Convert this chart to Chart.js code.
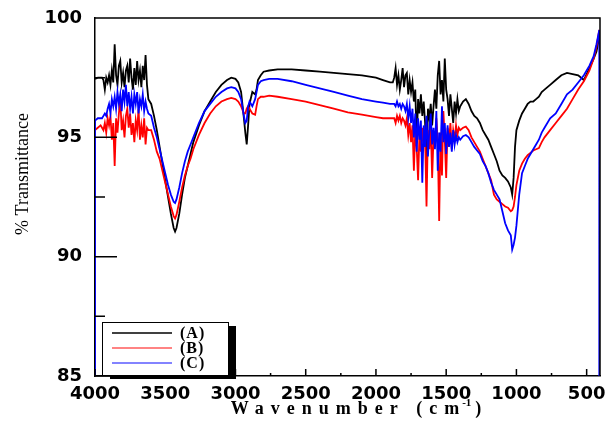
<!DOCTYPE html>
<html lang="en">
<head>
<meta charset="UTF-8">
<title>FTIR</title>
<script src="https://cdn.jsdelivr.net/npm/chart.js@4.4.1/dist/chart.umd.min.js"></script>
<style>
  body { margin: 0; background: #fff; }
</style>
</head>
<body>
<canvas id="myChart" width="610" height="427"></canvas>
<script>
// wavenumbers (cm-1), shared by the three spectra
const wavenumbers = [
  4000,
  4000, 3980, 3960,
  3950, 3940, 3930, 3920, 3910, 3900, 3890, 3880, 3870, 3860,
  3850, 3840, 3830, 3820, 3810, 3800, 3790, 3780, 3770, 3760,
  3750, 3740, 3730, 3720, 3710, 3700, 3690, 3680, 3670, 3660,
  3650, 3640, 3630, 3620,
  3600, 3580, 3560, 3540, 3520, 3500, 3480, 3460, 3440, 3430,
  3420, 3400, 3380, 3360, 3340, 3320, 3300, 3260, 3220, 3180,
  3140, 3100, 3060, 3030, 3000, 2980, 2960, 2940, 2930, 2920,
  2910, 2900, 2880, 2860, 2850, 2840, 2820, 2800, 2760, 2700,
  2600, 2500, 2400, 2300, 2200, 2100, 2000, 1950, 1900,
  1880, 1870, 1860, 1850, 1840, 1830, 1820, 1810, 1800, 1790,
  1780, 1770, 1760, 1750, 1740, 1730, 1720, 1710, 1700, 1690,
  1680, 1670, 1660, 1650, 1640, 1630, 1620, 1610, 1600, 1590,
  1580, 1570, 1560, 1550, 1540, 1530, 1520, 1510, 1500, 1490,
  1480, 1470, 1460, 1450, 1440, 1430, 1420, 1410, 1400,
  1380, 1360, 1340, 1320, 1300, 1280, 1260, 1240, 1220, 1200,
  1180, 1160, 1140, 1120, 1100, 1080, 1060, 1040, 1030, 1020,
  1010, 1000, 980, 960, 940, 920, 900, 880, 860, 840,
  820, 800, 760, 720, 680, 640, 600, 560, 520, 480,
  450, 430, 410,
  410
];

// (A)
const serieA = [
  null,
  97.45, 97.5, 97.5,
  97.5, 97.4, 97.0, 97.5, 97.3, 97.6, 97.2, 97.8, 97.3, 98.9,
  97.6, 97.2, 98.0, 98.2, 97.3, 97.7, 97.1, 97.8, 98.0, 97.3,
  98.3, 97.5, 97.0, 97.9, 97.2, 98.2, 97.4, 97.8, 97.1, 98.0,
  97.4, 98.45, 97.2, 96.6,
  96.4, 95.9, 95.3, 94.6, 93.9, 93.2, 92.5, 91.8, 91.2, 91.05,
  91.2, 91.8, 92.6, 93.3, 93.8, 94.3, 94.8, 95.5, 96.1, 96.5,
  96.9, 97.2, 97.4, 97.5, 97.45, 97.3, 96.9, 95.8, 95.2, 94.7,
  95.5, 96.4, 96.9, 96.8, 97.0, 97.4, 97.6, 97.75, 97.8, 97.85,
  97.85, 97.8, 97.75, 97.7, 97.65, 97.6, 97.5, 97.4, 97.3,
  97.3, 97.5, 97.9, 97.2, 97.6, 97.0, 97.4, 97.9, 97.1, 97.6,
  97.7, 96.8, 97.4, 96.9, 97.3, 96.5, 97.0, 94.8, 96.6, 96.0,
  96.8, 95.9, 96.5, 95.6, 93.3, 96.2, 95.8, 96.4, 95.5, 96.3,
  97.0, 96.2, 97.6, 98.2, 96.8, 97.4, 96.5, 98.3, 97.0, 96.6,
  95.9, 96.8, 96.2, 95.6, 96.5, 96.0, 96.6, 96.1, 96.3,
  96.5, 96.6, 96.4, 96.1, 95.9, 95.8, 95.6, 95.3, 95.1, 94.9,
  94.6, 94.3, 94.0, 93.6, 93.4, 93.3, 93.15, 92.9, 92.6, 93.3,
  94.6, 95.3, 95.7, 96.0, 96.2, 96.4, 96.5, 96.5, 96.6, 96.7,
  96.9, 97.0, 97.2, 97.4, 97.6, 97.7, 97.65, 97.6, 97.4, 97.9,
  98.3, 98.6, 99.2,
  null
];

// (B)
const serieB = [
  null,
  95.3, 95.4, 95.5,
  95.4, 95.3, 95.6, 95.2, 95.8, 95.5, 95.9, 94.9, 95.6, 93.8,
  95.8, 95.2, 96.0, 96.6, 95.3, 95.7, 95.0, 95.9, 96.2, 95.4,
  96.0, 95.1, 95.6, 94.8, 95.7, 95.3, 96.2, 94.9, 95.5, 95.0,
  95.8, 94.7, 95.4, 95.3,
  95.3, 94.9, 94.4, 94.1, 93.6, 93.1, 92.6, 92.1, 91.7, 91.6,
  91.75, 92.3, 92.9, 93.4, 93.8, 94.1, 94.5, 95.1, 95.6, 96.0,
  96.3, 96.5, 96.6, 96.65, 96.6, 96.5, 96.3, 96.0, 96.0, 96.2,
  96.3, 96.2, 96.0, 95.95, 96.3, 96.6, 96.7, 96.7, 96.75, 96.7,
  96.6, 96.5, 96.35, 96.2, 96.05, 95.95, 95.85, 95.8, 95.8,
  95.8, 95.8, 95.6, 95.9, 95.7, 95.9, 95.6, 95.8, 95.7, 95.5,
  95.8, 95.1, 95.6, 94.8, 95.5, 93.6, 95.3, 94.6, 93.2, 95.2,
  94.4, 95.4, 94.7, 95.0, 92.1, 95.3, 94.5, 95.6, 93.3, 95.0,
  94.6, 95.8, 94.8, 91.5, 95.2, 93.4, 96.1, 94.9, 93.3, 95.4,
  94.8, 95.6, 94.5, 95.3, 94.9, 95.5, 95.1, 95.4, 95.3,
  95.4, 95.45, 95.3, 95.0, 94.8, 94.6, 94.4, 94.1, 93.8, 93.5,
  93.2, 92.6, 92.4, 92.3, 92.2, 92.1, 92.05, 91.9, 91.95, 92.1,
  92.5, 93.0, 93.6, 93.9, 94.1, 94.25, 94.35, 94.45, 94.5, 94.55,
  94.8, 95.0, 95.3, 95.6, 95.9, 96.2, 96.6, 97.0, 97.35, 97.8,
  98.3, 98.8, 99.5,
  null
];

// (C)
const serieC = [
  85,
  95.7, 95.8, 95.8,
  95.8, 95.9, 96.0, 95.9, 96.2, 96.4, 96.0, 96.6, 96.3, 96.7,
  96.2, 96.9, 96.4, 96.8, 96.1, 97.0, 96.5, 97.2, 96.3, 96.9,
  96.2, 96.7, 96.0, 96.8, 96.4, 96.9, 96.0, 96.6, 96.3, 96.8,
  96.1, 96.5, 96.2, 96.0,
  95.9, 95.4, 95.0, 94.5, 94.0, 93.5, 93.0, 92.6, 92.3, 92.25,
  92.4, 92.9, 93.5, 94.0, 94.4, 94.7, 95.0, 95.6, 96.1, 96.4,
  96.7, 96.9, 97.05, 97.1, 97.05, 96.9, 96.6, 95.9, 95.6, 95.7,
  96.3, 96.5, 96.3, 96.6, 96.9, 97.2, 97.35, 97.4, 97.45, 97.45,
  97.35, 97.2, 97.05, 96.9, 96.75, 96.6, 96.5, 96.45, 96.4,
  96.4, 96.4, 96.3, 96.5, 96.3, 96.4, 96.2, 96.4, 96.3, 96.1,
  96.4, 95.8, 96.3, 95.6, 96.2, 95.0, 96.0, 94.4, 95.8, 94.9,
  95.7, 93.1, 95.5, 94.6, 95.9, 94.2, 95.3, 96.0, 94.7, 95.4,
  94.5, 96.1, 93.6, 95.2, 94.4, 96.3, 94.8, 95.6, 94.3, 95.5,
  94.6, 95.2, 94.4, 95.3, 94.7, 95.1, 94.8, 95.0, 94.9,
  95.05, 95.1, 95.0, 94.8, 94.6, 94.45, 94.3, 94.0, 93.8, 93.5,
  93.1, 92.8, 92.6, 92.4, 91.9, 91.4, 91.1, 90.9, 90.3, 90.5,
  90.8, 91.3, 92.6, 93.5, 93.8, 94.1, 94.3, 94.5, 94.7, 94.9,
  95.2, 95.4, 95.8, 96.0, 96.4, 96.8, 97.0, 97.3, 97.6, 98.0,
  98.4, 98.9, 99.5,
  85
];

const legendLabels = ['(A)', '(B)', '(C)'];
const xTicks = [4000, 3500, 3000, 2500, 2000, 1500, 1000, 500];
const yTicks = [85, 90, 95, 100];
const yTitle = '% Transmittance';

function pts(serie) {
  return wavenumbers.map((w, i) => ({ x: w, y: serie[i] }));
}

const data = {
  datasets: [
    { label: legendLabels[0], data: pts(serieA), borderColor: '#000000', order: 3 },
    { label: legendLabels[1], data: pts(serieB), borderColor: '#ff0000', order: 2 },
    { label: legendLabels[2], data: pts(serieC), borderColor: '#0000ff', order: 1 }
  ]
};

// frame, inward ticks, legend box and axis titles
const extras = {
  id: 'extras',
  afterDraw(chart) {
    const { ctx, chartArea: a, scales: { x, y } } = chart;
    ctx.save();
    ctx.strokeStyle = '#000';
    ctx.lineWidth = 1.5;
    ctx.beginPath();
    ctx.moveTo(a.left, a.top);
    ctx.lineTo(a.right, a.top);
    ctx.lineTo(a.right, a.bottom);
    yTicks.forEach((v, i) => {
      const py = y.getPixelForValue(v);
      ctx.moveTo(a.left, py); ctx.lineTo(a.left + 22, py);
      if (i < yTicks.length - 1) {
        const pm = y.getPixelForValue((v + yTicks[i + 1]) / 2);
        ctx.moveTo(a.left, pm); ctx.lineTo(a.left + 10, pm);
      }
    });
    xTicks.forEach((v, i) => {
      const px = x.getPixelForValue(v);
      ctx.moveTo(px, a.bottom); ctx.lineTo(px, a.bottom - 7);
      if (i < xTicks.length - 1) {
        const pm = x.getPixelForValue((v + xTicks[i + 1]) / 2);
        ctx.moveTo(pm, a.bottom); ctx.lineTo(pm, a.bottom - 3);
      }
    });
    ctx.stroke();

    // legend
    const bx = a.left + 7, by = a.bottom - 54, bw = 126, bh = 53;
    ctx.fillStyle = '#000';
    ctx.fillRect(bx + 8, by + 4, bw, bh);
    ctx.fillStyle = '#fff';
    ctx.fillRect(bx, by, bw, bh);
    ctx.lineWidth = 1;
    ctx.strokeRect(bx + 0.5, by + 0.5, bw, bh);
    ctx.font = 'bold 16px "Liberation Serif"';
    ctx.textBaseline = 'middle';
    chart.data.datasets.forEach((ds, i) => {
      const ly = by + 11 + i * 15;
      ctx.strokeStyle = ds.borderColor;
      ctx.globalAlpha = i === 0 ? 1 : 0.65;
      ctx.lineWidth = 1.5;
      ctx.beginPath();
      ctx.moveTo(bx + 10, ly); ctx.lineTo(bx + 70, ly);
      ctx.stroke();
      ctx.globalAlpha = 1;
      ctx.fillStyle = '#000';
      ctx.letterSpacing = '1px';
      ctx.fillText(ds.label, bx + 78, ly + 1);
    });

    // y axis title
    ctx.letterSpacing = '0px';
    ctx.save();
    ctx.translate(23, 174);
    ctx.rotate(-Math.PI / 2);
    ctx.font = '18px "Liberation Serif"';
    ctx.textAlign = 'center';
    ctx.textBaseline = 'middle';
    ctx.fillText(yTitle, 0, 0);
    ctx.restore();

    // x axis title with superscript
    const big = 'bold 18px "Liberation Serif"';
    const small = 'bold 11px "Liberation Serif"';
    ctx.font = big;
    ctx.letterSpacing = '7px';
    const main = 'Wavenumber (cm';
    const wMain = ctx.measureText(main).width;
    ctx.font = small;
    ctx.letterSpacing = '0px';
    const wSup = ctx.measureText('-1').width;
    ctx.font = big;
    const wClose = ctx.measureText(')').width;
    const total = wMain + wSup + wClose;
    let tx = 356 - total / 2;
    const ty = 414;
    ctx.textBaseline = 'alphabetic';
    ctx.textAlign = 'left';
    ctx.letterSpacing = '7px';
    ctx.fillText(main, tx, ty);
    tx += wMain;
    ctx.font = small;
    ctx.letterSpacing = '0px';
    ctx.fillText('-1', tx - 4, ty - 8);
    tx += wSup;
    ctx.font = big;
    ctx.fillText(')', tx, ty);
    ctx.restore();
  }
};

const tickFont = { family: 'DejaVu Sans', weight: 'bold', size: 18 };

const config = {
  type: 'line',
  data: data,
  options: {
    responsive: false,
    animation: false,
    layout: { padding: { top: 18, right: 10, left: 0, bottom: 0 } },
    elements: {
      point: { radius: 0 },
      line: { tension: 0, borderWidth: 1.8, fill: false }
    },
    plugins: { legend: { display: false }, tooltip: { enabled: false } },
    scales: {
      x: {
        type: 'linear',
        reverse: true,
        min: 405,
        max: 4000,
        afterBuildTicks: s => { s.ticks = xTicks.map(v => ({ value: v })); },
        afterFit: s => { s.height = 51; s.paddingLeft = 0; s.paddingRight = 0; },
        grid: { display: false, drawTicks: false },
        border: { display: true, color: '#000', width: 1.5 },
        ticks: { font: tickFont, color: '#000', padding: 8, maxRotation: 0, autoSkip: false, callback: v => String(v) }
      },
      y: {
        min: 85,
        max: 100,
        afterBuildTicks: s => { s.ticks = yTicks.map(v => ({ value: v })); },
        afterFit: s => { s.width = 95; s.paddingTop = 0; s.paddingBottom = 0; },
        grid: { display: false, drawTicks: false },
        border: { display: true, color: '#000', width: 1.5 },
        ticks: { font: tickFont, color: '#000', padding: 13, callback: v => String(v) }
      }
    }
  },
  plugins: [extras]
};

const myChart = new Chart(document.getElementById('myChart'), config);
</script>
</body>
</html>
